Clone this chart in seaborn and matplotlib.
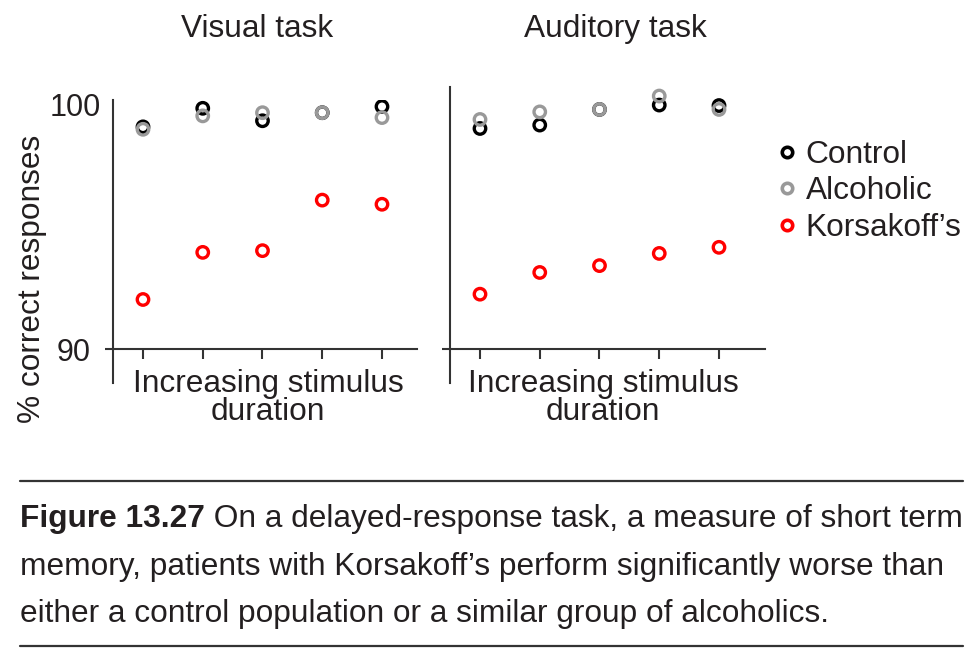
import numpy as np
import pandas as pd
import matplotlib
matplotlib.use("Agg")
import matplotlib.pyplot as plt
from matplotlib.lines import Line2D
import seaborn as sns

# ---- data ----
durations = [1, 2, 3, 4, 5]
groups = ["Control", "Alcoholic", "Korsakoff\u2019s"]
visual_control = [99.1, 99.86, 99.35, 99.68, 99.93]
visual_alcoholic = [99.0, 99.55, 99.68, 99.68, 99.48]
visual_korsakoff = [92.03, 93.96, 94.03, 96.1, 95.93]
auditory_control = [99.04, 99.18, 99.82, 100.0, 99.98]
auditory_alcoholic = [99.41, 99.72, 99.82, 100.37, 99.82]
auditory_korsakoff = [92.25, 93.14, 93.42, 93.92, 94.17]
panel_titles = ["Visual task", "Auditory task"]
ytick_values = [90, 100]
xlabel_text = "Increasing stimulus\nduration"
ylabel_text = "% correct responses"
caption_bold = "Figure 13.27"
caption_lines = [
    " On a delayed-response task, a measure of short term",
    "memory, patients with Korsakoff\u2019s perform significantly worse than",
    "either a control population or a similar group of alcoholics.",
]

colors = {"Control": "#000000", "Alcoholic": "#999999", "Korsakoff\u2019s": "#ff0000"}

def make_df(c, a, k):
    rows = []
    for g, vals in zip(groups, [c, a, k]):
        for d, v in zip(durations, vals):
            rows.append({"duration": d, "pct": v, "group": g})
    return pd.DataFrame(rows)

df_vis = make_df(visual_control, visual_alcoholic, visual_korsakoff)
df_aud = make_df(auditory_control, auditory_alcoholic, auditory_korsakoff)

sns.set_theme(style="white")
plt.rcParams["font.family"] = ["Liberation Sans", "DejaVu Sans"]
TXT = "#231f20"
SP = "#333333"
FS = 22.8

W, H = 969, 658
fig = plt.figure(figsize=(W / 100, H / 100), dpi=100)

def px_axes(x0, y0, x1, y1):
    return fig.add_axes([x0 / W, 1 - y1 / H, (x1 - x0) / W, (y1 - y0) / H])

ax1 = px_axes(113, 100, 417, 383)
ax2 = px_axes(450, 87, 765, 383)

def draw(ax, df, ylim, xlim, show_labels):
    sns.scatterplot(data=df, x="duration", y="pct", hue="group",
                    palette=colors, hue_order=groups, ax=ax, s=68,
                    legend=False, zorder=3)
    for coll in ax.collections:
        fc = coll.get_facecolors()
        coll.set_edgecolors(fc)
        coll.set_facecolors("none")
        coll.set_linewidths(2.4)
    ax.set_xlim(*xlim)
    ax.set_ylim(*ylim)
    for s in ["top", "right"]:
        ax.spines[s].set_visible(False)
    for s in ["left", "bottom"]:
        ax.spines[s].set_color(SP)
        ax.spines[s].set_linewidth(1.5)
    ax.spines["bottom"].set_position(("data", 90))
    ax.set_xticks(durations)
    ax.set_xticklabels([])
    ax.tick_params(axis="x", direction="out", length=7.2, width=1.5, color=SP, bottom=True)
    ax.set_yticks(ytick_values)
    if show_labels:
        ax.set_yticklabels([str(v) for v in ytick_values], fontsize=22, color=TXT)
    else:
        ax.set_yticklabels([])
    ax.tick_params(axis="y", direction="out", length=5.8, width=1.5, color=SP, left=True, pad=10)
    yt = ax.yaxis.get_major_ticks()
    yt[1].tick1line.set_visible(False)
    ax.set_xlabel("")
    ax.set_ylabel("")
    ax.grid(False)
    ax.patch.set_alpha(0)

draw(ax1, df_vis, (88.61, 100.2), (0.498, 5.586), True)
draw(ax2, df_aud, (88.61, 100.74), (0.498, 5.77), False)
ax1.yaxis.get_major_ticks()[1].set_pad(2.6)

for ax, cx in [(ax1, 268), (ax2, 603)]:
    fig.text(cx / W, 1 - 398 / H, xlabel_text, ha="center", va="center",
             fontsize=FS, color=TXT, linespacing=0.93)

fig.text(257 / W, 1 - 29 / H, panel_titles[0], ha="center", va="center", fontsize=FS, color=TXT)
fig.text(615 / W, 1 - 29 / H, panel_titles[1], ha="center", va="center", fontsize=FS, color=TXT)
fig.text(32 / W, 1 - 279 / H, ylabel_text, ha="center", va="center", rotation=90,
         fontsize=FS, color=TXT)

handles = [Line2D([], [], marker="o", ls="", mfc="none", mec=colors[g], mew=2.6, ms=7.5)
           for g in groups]
fig.legend(handles, groups, loc="upper left", bbox_to_anchor=(774 / W, 1 - 140 / H),
           frameon=False, fontsize=FS, handlelength=0.8, handletextpad=0.2,
           labelspacing=0.2, borderpad=0, borderaxespad=0, labelcolor=TXT)

# caption rules
fig.add_artist(Line2D([20 / W, 963 / W], [1 - 481 / H, 1 - 481 / H], color=SP, lw=1.6))
fig.add_artist(Line2D([20 / W, 963 / W], [1 - 646 / H, 1 - 646 / H], color=SP, lw=1.6))

cap_fs = FS
baselines = [527, 575, 622]
tb = fig.text(20 / W, 1 - baselines[0] / H, caption_bold, ha="left", va="baseline",
              fontsize=cap_fs, fontweight="bold", color=TXT)
fig.canvas.draw()
bb = tb.get_window_extent(renderer=fig.canvas.get_renderer())
x_after = bb.x1 / W
fig.text(x_after, 1 - baselines[0] / H, caption_lines[0], ha="left", va="baseline",
         fontsize=cap_fs, color=TXT)
for line, bl in zip(caption_lines[1:], baselines[1:]):
    fig.text(20 / W, 1 - bl / H, line, ha="left", va="baseline", fontsize=cap_fs, color=TXT)

fig.savefig("out.png", dpi=100, facecolor="white")
